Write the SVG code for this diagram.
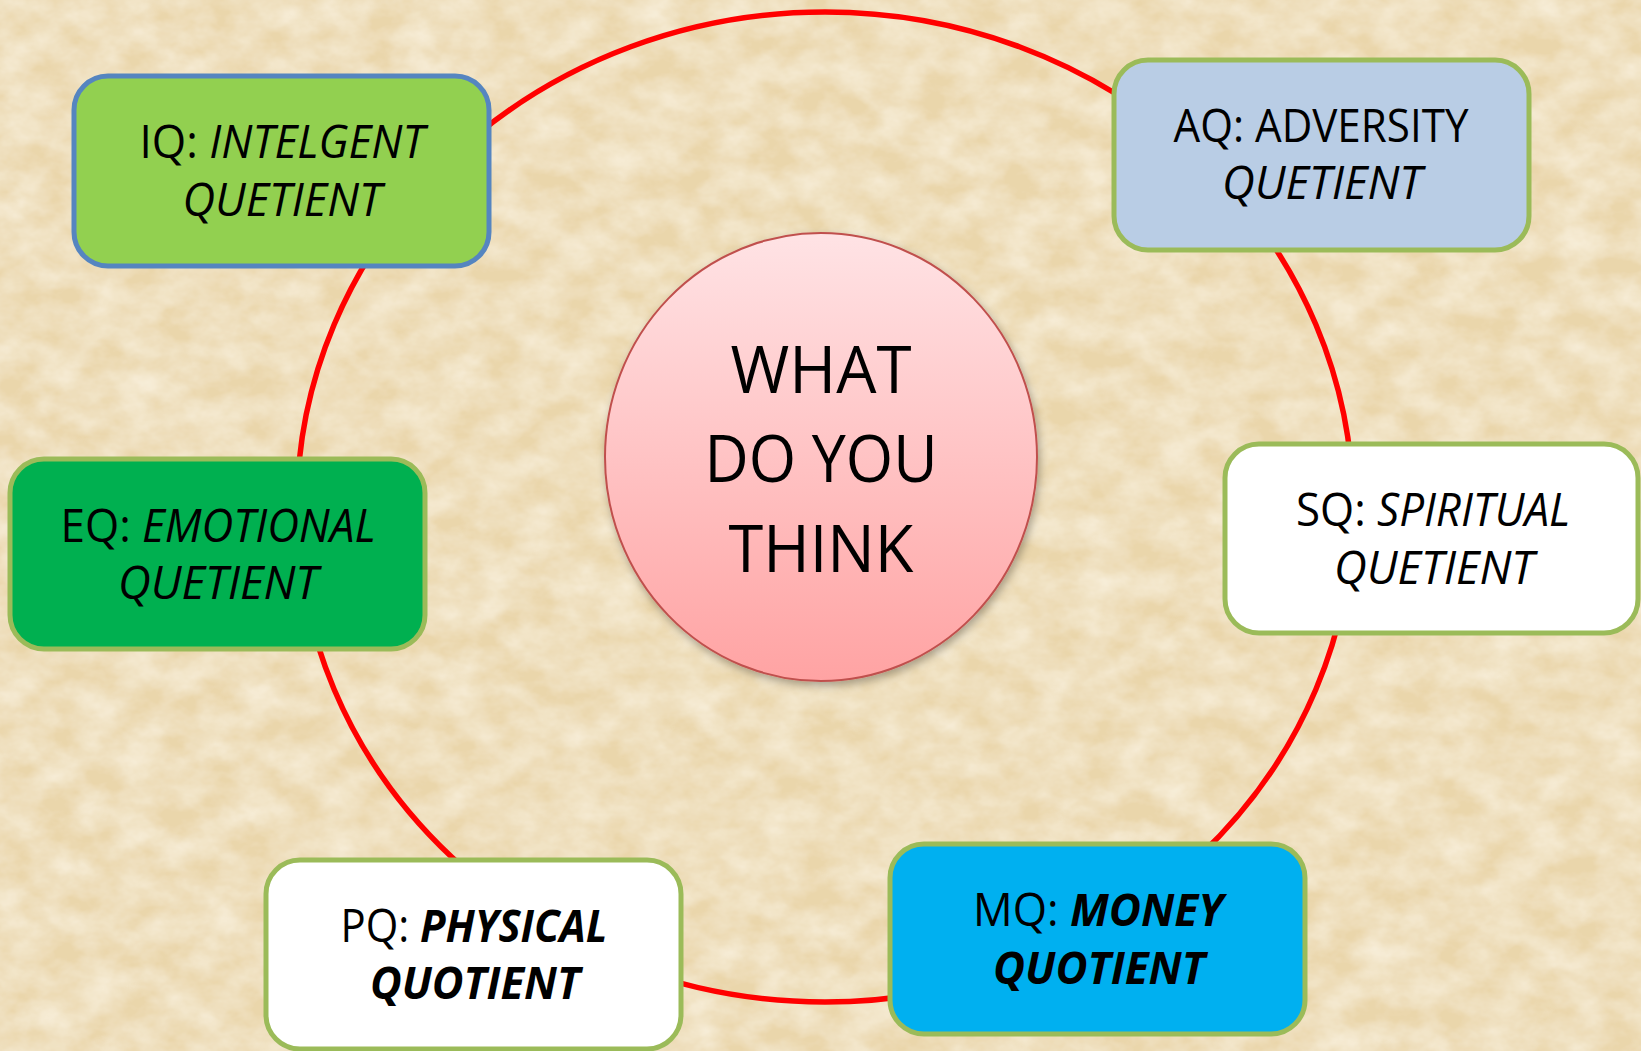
<svg xmlns="http://www.w3.org/2000/svg" width="1641" height="1051" viewBox="0 0 1641 1051">
  <defs>
    <filter id="paper" x="0" y="0" width="1641" height="1051" filterUnits="userSpaceOnUse">
      <feFlood flood-color="#EAD6AB" result="base"/>
      <feTurbulence type="fractalNoise" baseFrequency="0.025 0.035" numOctaves="4" seed="7" result="n"/>
      <feColorMatrix in="n" type="matrix" values="0 0 0 0 0.97  0 0 0 0 0.915  0 0 0 0 0.79  1.1 0 0 0 -0.28" result="light"/>
      <feComposite in="light" in2="base" operator="over"/>
    </filter>
    <linearGradient id="pink" x1="0" y1="0" x2="0" y2="1">
      <stop offset="0" stop-color="#FFE3E5"/>
      <stop offset="1" stop-color="#FFA3A3"/>
    </linearGradient>
    <filter id="shadow" x="-10%" y="-10%" width="120%" height="125%">
      <feDropShadow dx="2" dy="4" stdDeviation="4" flood-color="#000" flood-opacity="0.3"/>
    </filter>
  </defs>
  <style>
    .box { stroke-width: 5; }
    .green-edge { stroke: #9BBB59; }
    .t { font-family: "Open Sans", "Liberation Sans", sans-serif; font-size: 45px; fill: #000; text-anchor: middle; }
    .c { font-family: "Open Sans", "Liberation Sans", sans-serif; font-size: 65px; fill: #000; text-anchor: middle; }
    .i { font-style: italic; }
    .bi { font-style: italic; font-weight: bold; }
  </style>

  <rect x="0" y="0" width="1641" height="1051" filter="url(#paper)"/>

  <g id="connectors">
    <ellipse cx="825" cy="507" rx="528" ry="495" fill="none" stroke="#FF0000" stroke-width="5.5"/>
  </g>

  <g id="center">
    <ellipse cx="821" cy="457" rx="216" ry="224" fill="url(#pink)" stroke="#C0504D" stroke-width="2" filter="url(#shadow)"/>
    <text class="c" x="821" y="393" textLength="181" lengthAdjust="spacingAndGlyphs">WHAT</text>
    <text class="c" x="821" y="482" textLength="233" lengthAdjust="spacingAndGlyphs">DO YOU</text>
    <text class="c" x="821" y="572" textLength="185" lengthAdjust="spacingAndGlyphs">THINK</text>
  </g>

  <g id="iq">
    <rect class="box" x="74" y="76" width="415" height="190" rx="34" fill="#92D050" stroke="#5585C0"/>
    <text class="t" x="282" y="158" textLength="285" lengthAdjust="spacingAndGlyphs">IQ: <tspan class="i">INTELGENT</tspan></text>
    <text class="t i" x="282" y="216" textLength="199" lengthAdjust="spacingAndGlyphs">QUETIENT</text>
  </g>

  <g id="aq">
    <rect class="box green-edge" x="1114" y="60" width="415" height="190" rx="34" fill="#B9CDE5"/>
    <text class="t" x="1321" y="142" textLength="295" lengthAdjust="spacingAndGlyphs">AQ: ADVERSITY</text>
    <text class="t i" x="1322" y="199" textLength="200" lengthAdjust="spacingAndGlyphs">QUETIENT</text>
  </g>

  <g id="eq">
    <rect class="box green-edge" x="10" y="459" width="415" height="190" rx="34" fill="#00B050"/>
    <text class="t" x="218" y="542" textLength="315" lengthAdjust="spacingAndGlyphs">EQ: <tspan class="i">EMOTIONAL</tspan></text>
    <text class="t i" x="218" y="599" textLength="200" lengthAdjust="spacingAndGlyphs">QUETIENT</text>
  </g>

  <g id="sq">
    <rect class="box green-edge" x="1225" y="444" width="413" height="189" rx="34" fill="#FFFFFF"/>
    <text class="t" x="1433" y="526" textLength="274" lengthAdjust="spacingAndGlyphs">SQ: <tspan class="i">SPIRITUAL</tspan></text>
    <text class="t i" x="1434" y="584" textLength="200" lengthAdjust="spacingAndGlyphs">QUETIENT</text>
  </g>

  <g id="pq">
    <rect class="box green-edge" x="266" y="860" width="415" height="189" rx="34" fill="#FFFFFF"/>
    <text class="t" x="474" y="942" textLength="267" lengthAdjust="spacingAndGlyphs">PQ: <tspan class="bi">PHYSICAL</tspan></text>
    <text class="t bi" x="475" y="999" textLength="210" lengthAdjust="spacingAndGlyphs">QUOTIENT</text>
  </g>

  <g id="mq">
    <rect class="box green-edge" x="890" y="844" width="415" height="190" rx="34" fill="#00B0F0"/>
    <text class="t" x="1098" y="926" textLength="250" lengthAdjust="spacingAndGlyphs">MQ: <tspan class="bi">MONEY</tspan></text>
    <text class="t bi" x="1099" y="984" textLength="212" lengthAdjust="spacingAndGlyphs">QUOTIENT</text>
  </g>
</svg>
